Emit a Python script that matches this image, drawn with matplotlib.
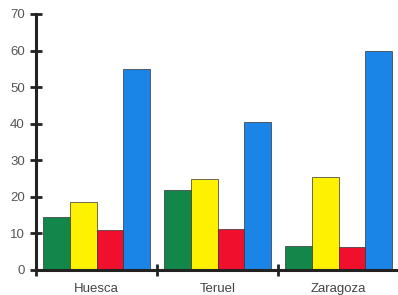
import matplotlib
matplotlib.use("Agg")
import matplotlib.pyplot as plt
import numpy as np

plt.rcParams['font.family'] = ['Liberation Sans', 'DejaVu Sans']

categories = ["Huesca", "Teruel", "Zaragoza"]
green = [14.5, 21.9, 6.6]
yellow = [18.6, 24.9, 25.4]
red = [10.9, 11.2, 6.3]
blue = [55.0, 40.5, 60.0]
series = [green, yellow, red, blue]
colors = ["#13874a", "#fff200", "#f0102e", "#1a85e6"]
yticks = [0, 10, 20, 30, 40, 50, 60, 70]

fig = plt.figure(figsize=(3.98, 2.95), dpi=100)
ax = fig.add_axes([36/398, 25/295, 363/398, 256/295])

x = np.arange(len(categories))
w = 0.22
for i, (vals, c) in enumerate(zip(series, colors)):
    ax.bar(x + (i - 1.5) * w, vals, width=w, color=c, edgecolor="#333333", linewidth=0.5, zorder=2)

ax.set_xlim(-0.5, 2.5)
ax.set_ylim(0, 70)
ax.set_yticks(yticks)
ax.set_xticks(x)
ax.set_xticklabels(categories)
ax.set_xticks([-0.5, 0.5, 1.5, 2.5], minor=True)

for s in ["top", "right"]:
    ax.spines[s].set_visible(False)
for s in ["left", "bottom"]:
    ax.spines[s].set_linewidth(2.2)
    ax.spines[s].set_color("#222222")

ax.tick_params(axis="y", direction="inout", length=8, width=2, color="#222222",
               labelsize=9.5, labelcolor="#555555", pad=4)
ax.tick_params(axis="x", which="major", length=0, labelsize=9.5, labelcolor="#444444", pad=9.5)
ax.tick_params(axis="x", which="minor", direction="inout", length=9, width=2, color="#222222")

fig.savefig("out.png", dpi=100)
